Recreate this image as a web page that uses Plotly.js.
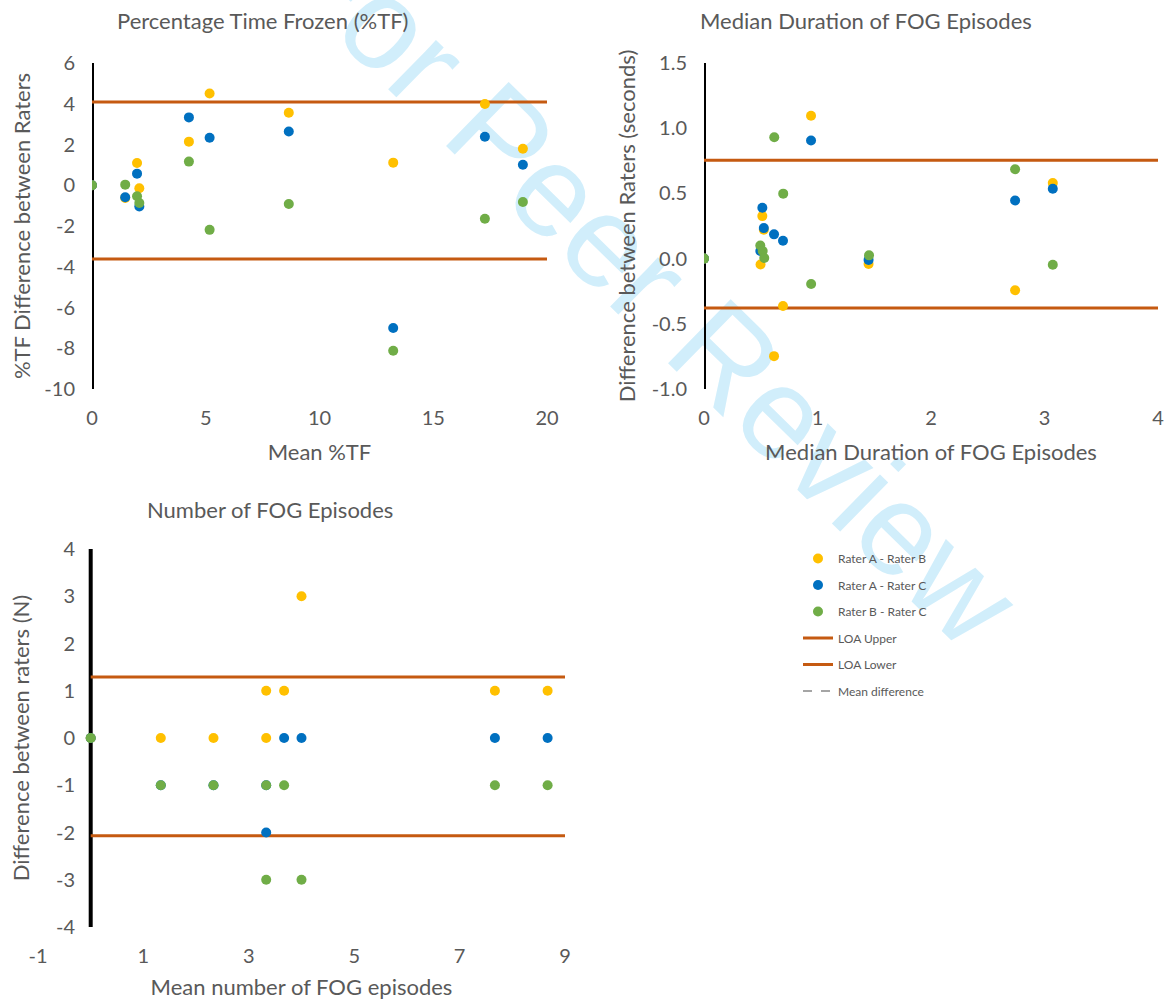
<!DOCTYPE html>
<html>
<head>
<meta charset="utf-8">
<script src="https://cdn.plot.ly/plotly-3.0.1.min.js"></script>
<style>html,body{margin:0;padding:0;background:#fff;}#chart{width:1169px;height:1000px;}</style>
</head>
<body>
<div id="chart"></div>
<script>
// ---------- DATA ----------
// Panel 1: Percentage Time Frozen (%TF)
const tfMeanAB = [0, 1.46, 1.98, 2.08, 4.26, 5.17, 8.65, 13.24, 17.27, 18.94];
const tfDiffAB = [0, -0.62, 1.09, -0.15, 2.14, 4.50, 3.56, 1.11, 3.99, 1.79];
const tfMeanAC = [0, 1.46, 1.98, 2.08, 4.26, 5.17, 8.65, 13.24, 17.27, 18.94];
const tfDiffAC = [0, -0.59, 0.57, -1.04, 3.33, 2.33, 2.64, -7.01, 2.38, 1.01];
const tfMeanBC = [0, 1.46, 1.98, 2.08, 4.26, 5.17, 8.65, 13.24, 17.27, 18.94];
const tfDiffBC = [0, 0.03, -0.54, -0.87, 1.16, -2.19, -0.92, -8.12, -1.64, -0.82];
const tfLoaUpper = 4.09;
const tfLoaLower = -3.62;
const tfXMax = 20;
const tfXTicks = [0, 5, 10, 15, 20];
const tfXLabels = ['0', '5', '10', '15', '20'];
const tfYTicks = [-10, -8, -6, -4, -2, 0, 2, 4, 6];
const tfYLabels = ['-10', '-8', '-6', '-4', '-2', '0', '2', '4', '6'];

// Panel 2: Median Duration of FOG Episodes (seconds)
const durMeanAB = [0, 0.498, 0.514, 0.527, 0.617, 0.696, 0.943, 1.45, 2.741, 3.073];
const durDiffAB = [0, -0.045, 0.326, 0.222, -0.748, -0.363, 1.096, -0.042, -0.243, 0.579];
const durMeanAC = [0, 0.496, 0.514, 0.527, 0.617, 0.696, 0.943, 1.45, 2.741, 3.073];
const durDiffAC = [0, 0.058, 0.39, 0.234, 0.186, 0.137, 0.906, -0.01, 0.446, 0.536];
const durMeanBC = [0, 0.496, 0.517, 0.531, 0.619, 0.698, 0.944, 1.454, 2.741, 3.073];
const durDiffBC = [0, 0.101, 0.058, 0.005, 0.93, 0.498, -0.195, 0.025, 0.685, -0.047];
const durLoaUpper = 0.754;
const durLoaLower = -0.379;
const durXMax = 4;
const durXTicks = [0, 1, 2, 3, 4];
const durXLabels = ['0', '1', '2', '3', '4'];
const durYTicks = [-1, -0.5, 0, 0.5, 1, 1.5];
const durYLabels = ['-1.0', '-0.5', '0.0', '0.5', '1.0', '1.5'];

// Panel 3: Number of FOG Episodes
const numMeanAB = [0, 1.33, 2.33, 3.33, 3.33, 3.67, 4.0, 7.67, 8.67];
const numDiffAB = [0, 0, 0, 0, 1, 1, 3, 1, 1];
const numMeanAC = [0, 1.33, 2.33, 3.33, 3.33, 3.67, 4.0, 7.67, 8.67];
const numDiffAC = [0, -1, -1, -1, -2, 0, 0, 0, 0];
const numMeanBC = [0, 1.33, 2.33, 3.33, 3.33, 3.67, 4.0, 7.67, 8.67];
const numDiffBC = [0, -1, -1, -1, -3, -1, -3, -1, -1];
const numLoaUpper = 1.29;
const numLoaLower = -2.07;
const numXMax = 9;
const numXTicks = [-1, 1, 3, 5, 7, 9];
const numXLabels = ['-1', '1', '3', '5', '7', '9'];
const numYTicks = [-4, -3, -2, -1, 0, 1, 2, 3, 4];
const numYLabels = ['-4', '-3', '-2', '-1', '0', '1', '2', '3', '4'];

const seriesNames = ['Rater A - Rater B', 'Rater A - Rater C', 'Rater B - Rater C'];
const loaNames = ['LOA Upper', 'LOA Lower'];
const meanDiffName = 'Mean difference';
const meanDiffX = [null];
const meanDiffY = [null];

// ---------- STYLE ----------
const W = 1169, H = 1000;
const px = v => v / W;
const py = v => 1 - v / H;
const colAB = '#FFC000', colAC = '#0070C0', colBC = '#70AD47', colLoa = '#C55A11';
const txt = '#595959';
const FONT = 'Lato, "Open Sans", sans-serif';
const mSize = 10;

function panel(xa, ya, meansAB, diffsAB, meansAC, diffsAC, meansBC, diffsBC, up, lo, xmax, legend) {
  const ax = {xaxis: xa, yaxis: ya};
  return [
    Object.assign({type: 'scatter', mode: 'lines', x: [0, xmax], y: [up, up], name: loaNames[0],
      line: {color: colLoa, width: 3}, showlegend: legend, legendgroup: 'g4', legendrank: 4, hoverinfo: 'skip'}, ax),
    Object.assign({type: 'scatter', mode: 'lines', x: [0, xmax], y: [lo, lo], name: loaNames[1],
      line: {color: colLoa, width: 3}, showlegend: legend, legendgroup: 'g5', legendrank: 5, hoverinfo: 'skip'}, ax),
    Object.assign({type: 'scatter', mode: 'markers', x: meansAB, y: diffsAB, name: seriesNames[0],
      marker: {color: colAB, size: mSize}, showlegend: legend, legendgroup: 'g1', legendrank: 1}, ax),
    Object.assign({type: 'scatter', mode: 'markers', x: meansAC, y: diffsAC, name: seriesNames[1],
      marker: {color: colAC, size: mSize}, showlegend: legend, legendgroup: 'g2', legendrank: 2}, ax),
    Object.assign({type: 'scatter', mode: 'markers', x: meansBC, y: diffsBC, name: seriesNames[2],
      marker: {color: colBC, size: mSize}, showlegend: legend, legendgroup: 'g3', legendrank: 3}, ax)
  ];
}

const data = []
  .concat(panel('x', 'y', tfMeanAB, tfDiffAB, tfMeanAC, tfDiffAC, tfMeanBC, tfDiffBC, tfLoaUpper, tfLoaLower, tfXMax, true))
  .concat(panel('x2', 'y2', durMeanAB, durDiffAB, durMeanAC, durDiffAC, durMeanBC, durDiffBC, durLoaUpper, durLoaLower, durXMax, false))
  .concat(panel('x3', 'y3', numMeanAB, numDiffAB, numMeanAC, numDiffAC, numMeanBC, numDiffBC, numLoaUpper, numLoaLower, numXMax, false));

data.push({type: 'scatter', mode: 'lines', x: meanDiffX, y: meanDiffY, name: meanDiffName,
  line: {color: '#A5A5A5', width: 2, dash: 'dash'}, showlegend: true, legendgroup: 'g6', legendrank: 6,
  xaxis: 'x', yaxis: 'y', hoverinfo: 'skip'});

const tickFont = {family: FONT, size: 20, color: txt};
const titleFont = {family: FONT, size: 22, color: txt};
function xAx(domain, range, tv, tt, anchor, title) {
  return {domain: domain, range: range, tickmode: 'array', tickvals: tv, ticktext: tt, anchor: anchor,
    showgrid: false, zeroline: false, showline: false, ticks: '', tickfont: tickFont,
    ticklabelstandoff: 15, fixedrange: true,
    title: {text: title, font: titleFont, standoff: 16}};
}
function yAx(domain, range, tv, tt, anchor, title, standoff) {
  return {domain: domain, range: range, tickmode: 'array', tickvals: tv, ticktext: tt, anchor: anchor,
    showgrid: false, zeroline: false, showline: false, ticks: '', tickfont: tickFont,
    ticklabelstandoff: 16, fixedrange: true,
    title: {text: title, font: titleFont, standoff: standoff}};
}

const yaxis3 = yAx([py(927), py(549)], [-4, 4], numYTicks, numYLabels, 'free', 'Difference between raters (N)', 19);
yaxis3.position = px(91);

const layout = {
  width: W, height: H,
  margin: {l: 0, r: 0, t: 0, b: 0},
  paper_bgcolor: '#ffffff', plot_bgcolor: 'rgba(0,0,0,0)',
  font: {family: FONT, color: txt},
  xaxis: xAx([px(92), px(547)], [0, 20], tfXTicks, tfXLabels, 'y', 'Mean %TF'),
  yaxis: yAx([py(389), py(63)], [-10, 6], tfYTicks, tfYLabels, 'x', '%TF Difference between Raters', 7),
  xaxis2: xAx([px(704), px(1158)], [0, 4], durXTicks, durXLabels, 'y2', 'Median Duration of FOG Episodes'),
  yaxis2: yAx([py(389), py(63)], [-1, 1.5], durYTicks, durYLabels, 'x2', 'Difference between Raters (seconds)', 9),
  xaxis3: xAx([px(38), px(565)], [-1, 9], numXTicks, numXLabels, 'y3', 'Mean number of FOG episodes'),
  yaxis3: yaxis3,
  showlegend: true,
  legend: {x: px(798), y: py(544), xanchor: 'left', yanchor: 'top', bgcolor: 'rgba(0,0,0,0)',
    font: {family: FONT, size: 12, color: txt}, tracegroupgap: 7.5, traceorder: 'grouped', itemclick: false},
  shapes: [
    {type: 'line', xref: 'paper', yref: 'paper', x0: px(226), y0: py(-43), x1: px(986), y1: py(701),
      line: {color: 'rgba(0,0,0,0)', width: 1}, layer: 'below',
      label: {text: 'For Peer Review', textangle: 'auto', textposition: 'middle',
        font: {family: '"Liberation Sans", Arial, sans-serif', size: 130, color: '#d1eefb'}}},
    {type: 'line', xref: 'x', yref: 'y domain', x0: 0, x1: 0, y0: 0, y1: 1, line: {color: '#000', width: 4}, layer: 'below'},
    {type: 'line', xref: 'x2', yref: 'y2 domain', x0: 0, x1: 0, y0: 0, y1: 1, line: {color: '#000', width: 4}, layer: 'below'},
    {type: 'line', xref: 'x3', yref: 'y3 domain', x0: 0, x1: 0, y0: 0, y1: 1, line: {color: '#000', width: 4}, layer: 'below'}
  ],
  annotations: [
    {text: 'Percentage Time Frozen (%TF)', xref: 'paper', yref: 'paper', x: px(262), y: py(20), xanchor: 'center', yanchor: 'middle', showarrow: false, font: titleFont},
    {text: 'Median Duration of FOG Episodes', xref: 'paper', yref: 'paper', x: px(866), y: py(20), xanchor: 'center', yanchor: 'middle', showarrow: false, font: titleFont},
    {text: 'Number of FOG Episodes', xref: 'paper', yref: 'paper', x: px(270), y: py(509), xanchor: 'center', yanchor: 'middle', showarrow: false, font: titleFont}
  ]
};

Plotly.newPlot('chart', data, layout, {displayModeBar: false, staticPlot: true});
</script>
</body>
</html>
